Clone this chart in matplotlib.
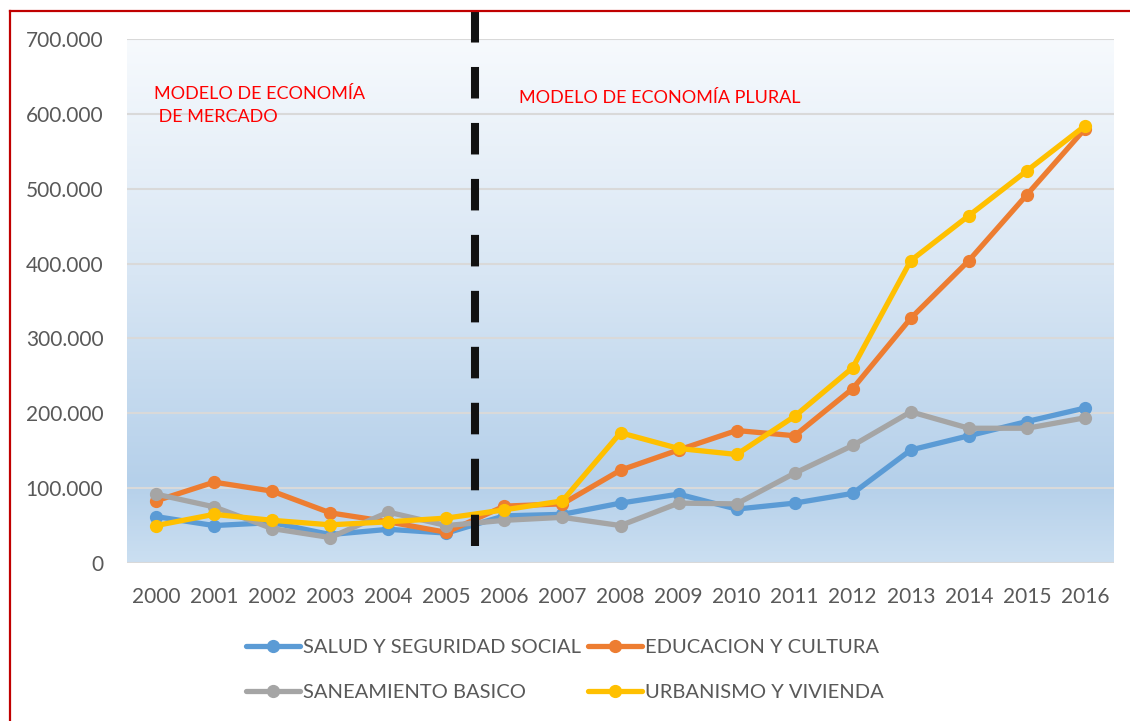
import matplotlib.pyplot as plt
import matplotlib.colors as mcolors
import matplotlib.ticker as mticker
from matplotlib.lines import Line2D
import numpy as np

plt.rcParams['font.family'] = ['Lato', 'DejaVu Sans']
plt.rcParams['lines.scale_dashes'] = False

# data
years = [str(y) for y in range(2000, 2017)]
salud = [62000, 50000, 54000, 38000, 45000, 40000, 63000, 65000, 80000,
         92000, 72000, 80000, 93000, 151000, 170000, 189000, 207000]
educacion = [83000, 108000, 96000, 67000, 55000, 41000, 76000, 79000, 124000,
             151000, 177000, 170000, 233000, 327000, 404000, 492000, 580000]
saneamiento = [92000, 75000, 46000, 34000, 68000, 50000, 57000, 61000, 50000,
               80000, 79000, 120000, 157000, 202000, 180000, 180000, 194000]
urbanismo = [50000, 65000, 57000, 51000, 55000, 60000, 71000, 83000, 174000,
             153000, 145000, 196000, 261000, 404000, 464000, 524000, 584000]

series = [
    ('SALUD Y SEGURIDAD SOCIAL', salud, '#5B9BD5'),
    ('EDUCACION Y CULTURA', educacion, '#ED7D31'),
    ('SANEAMIENTO BASICO', saneamiento, '#A5A5A5'),
    ('URBANISMO Y VIVIENDA', urbanismo, '#FFC000'),
]

txt_col = '#595959'
W, H = 1130, 721
fig = plt.figure(figsize=(W / 100, H / 100), dpi=100)
ax = fig.add_axes([127 / W, 1 - 563 / H, (1114 - 127) / W, (563 - 39) / H])

x = np.arange(len(years))
ax.set_xlim(-0.5, len(years) - 0.5)
ax.set_ylim(0, 700000)

# gradient background of the plot area
grad = mcolors.LinearSegmentedColormap.from_list(
    'bg', [(0, '#F7FAFD'), (0.45, '#D8E6F4'), (0.85, '#B5D0EA'), (1.0, '#CBDFF1')])
ax.imshow(np.linspace(0, 1, 256).reshape(-1, 1), cmap=grad, aspect='auto',
          extent=[-0.5, len(years) - 0.5, 0, 700000], origin='upper', zorder=0)

ax.set_yticks(np.arange(0, 700001, 100000))
ax.yaxis.set_major_formatter(mticker.FuncFormatter(lambda v, p: f'{int(v):,}'.replace(',', '.')))
ax.set_xticks(x)
ax.set_xticklabels(years)
ax.grid(axis='y', color='#D9D9D9', linewidth=1.5, zorder=1)
ax.set_axisbelow(False)
ax.tick_params(length=0, labelsize=15, labelcolor=txt_col)
ax.tick_params(axis='y', pad=17)
ax.tick_params(axis='x', pad=17)
for s in ax.spines.values():
    s.set_visible(False)

handles = []
for name, vals, col in series:
    ln, = ax.plot(x, vals, color=col, linewidth=3.8, marker='o', markersize=8.5,
                  label=name, zorder=3, solid_capstyle='round')
    handles.append(ln)

# dashed separator between both economic models
sep = Line2D([5.5, 5.5], [1.053, 0.0325], transform=ax.get_xaxis_transform(),
             color='#111111', linewidth=5.8, dashes=(22.7, 17.6),
             dash_capstyle='butt', clip_on=False, zorder=4)
ax.add_line(sep)

fig.text(154 / W, 1 - 86 / H, 'MODELO DE ECONOMÍA\n DE MERCADO', color='#FF0000',
         fontsize=13, va='top', ha='left', linespacing=1.5)
fig.text(519 / W, 1 - 90 / H, 'MODELO DE ECONOMÍA PLURAL', color='#FF0000',
         fontsize=13, va='top', ha='left')

# legend filled row by row like the original
order = [0, 2, 1, 3]
leg = fig.legend([handles[i] for i in order], [series[i][0] for i in order],
                 loc='center left', bbox_to_anchor=(236 / W, 1 - 670 / H), ncol=2,
                 frameon=False, fontsize=14.5, handlelength=2.7, handletextpad=0.15,
                 columnspacing=0.3, labelspacing=1.35, borderpad=0)
for t in leg.get_texts():
    t.set_color(txt_col)

# red frame (left and top edges visible in the original)
fig.add_artist(Line2D([9.5 / W, 9.5 / W], [0, 1 - 11 / H], color='#C00000', linewidth=1.6))
fig.add_artist(Line2D([9.5 / W, 1], [1 - 11 / H, 1 - 11 / H], color='#C00000', linewidth=1.6))

fig.savefig('out.png', dpi=100)
